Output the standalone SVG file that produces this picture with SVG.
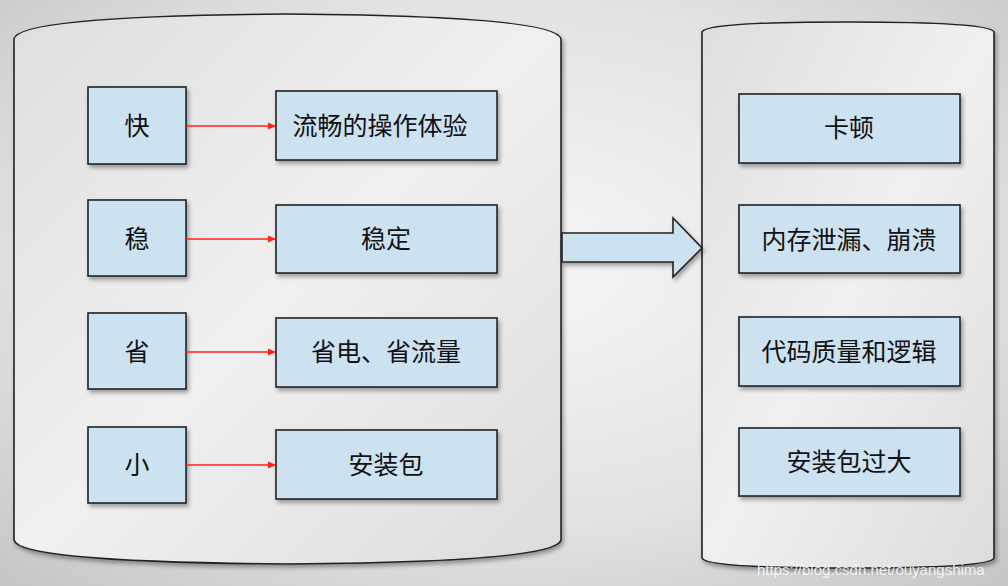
<svg xmlns="http://www.w3.org/2000/svg" width="1008" height="586" viewBox="0 0 1008 586">
<defs>
<radialGradient id="bg" cx="0.5" cy="0.45" r="0.75">
<stop offset="0" stop-color="#f7f7f7"/>
<stop offset="0.6" stop-color="#e2e2e2"/>
<stop offset="1" stop-color="#c4c4c4"/>
</radialGradient>
<linearGradient id="cyl" x1="0" y1="0" x2="1" y2="1">
<stop offset="0" stop-color="#dedede"/>
<stop offset="0.5" stop-color="#f0f0f0"/>
<stop offset="1" stop-color="#dcdcdc"/>
</linearGradient>
<filter id="sh" x="-10%" y="-10%" width="130%" height="140%">
<feDropShadow dx="2" dy="3" stdDeviation="2" flood-color="#000" flood-opacity="0.35"/>
</filter>
<marker id="ra" markerWidth="8" markerHeight="8" refX="7" refY="4" orient="auto" markerUnits="userSpaceOnUse">
<path d="M0,0.5 L8,4 L0,7.5 Z" fill="#ff2020"/>
</marker>
<style>
.cyl{fill:url(#cyl);stroke:#222;stroke-width:1.6;filter:url(#sh)}
.box{fill:#cde2f1;stroke:#222;stroke-width:1.6;filter:url(#sh)}
.t{font-family:"Liberation Sans","Noto Sans CJK SC",sans-serif;font-size:25px;fill:#111;text-anchor:middle;dominant-baseline:central}
.c{stroke:#ff2020;stroke-width:1.4;fill:none;marker-end:url(#ra)}
</style>
</defs>
<rect width="1008" height="586" fill="url(#bg)"/>
<g id="left-container">
<path class="cyl" d="M14,39 Q18,16 287,14 Q556,16 561,39 L561,540 Q556,562 287,564 Q18,562 14,540 Z"/>
</g>
<g id="right-container">
<path class="cyl" d="M702,32 Q706,22 848,22 Q990,22 994,32 L994,558 Q990,568 848,568 Q706,568 702,558 Z"/>
</g>
<g id="n-kuai"><rect class="box" x="88" y="87" width="98" height="77"/><text class="t" x="137" y="126">快</text></g>
<g id="n-wen"><rect class="box" x="88" y="200" width="98" height="76"/><text class="t" x="137" y="239">稳</text></g>
<g id="n-sheng"><rect class="box" x="88" y="313" width="98" height="76"/><text class="t" x="137" y="352">省</text></g>
<g id="n-xiao"><rect class="box" x="88" y="427" width="98" height="76"/><text class="t" x="137" y="465">小</text></g>
<g id="n-liuchang"><rect class="box" x="276" y="91" width="221" height="69"/><text class="t" x="380" y="126">流畅的操作体验</text></g>
<g id="n-wending"><rect class="box" x="276" y="205" width="221" height="68"/><text class="t" x="386" y="239">稳定</text></g>
<g id="n-shengdian"><rect class="box" x="276" y="318" width="221" height="69"/><text class="t" x="386" y="352">省电、省流量</text></g>
<g id="n-anzhuangbao"><rect class="box" x="276" y="430" width="221" height="69"/><text class="t" x="386" y="465">安装包</text></g>
<g id="n-kadun"><rect class="box" x="739" y="94" width="221" height="69"/><text class="t" x="849" y="128">卡顿</text></g>
<g id="n-neicun"><rect class="box" x="739" y="205" width="221" height="68"/><text class="t" x="849" y="240">内存泄漏、崩溃</text></g>
<g id="n-daima"><rect class="box" x="739" y="317" width="221" height="69"/><text class="t" x="849" y="352">代码质量和逻辑</text></g>
<g id="n-guoda"><rect class="box" x="739" y="428" width="221" height="68"/><text class="t" x="849" y="462">安装包过大</text></g>
<g id="connectors">
<line class="c" x1="186" y1="126" x2="275" y2="126"/>
<line class="c" x1="186" y1="239" x2="275" y2="239"/>
<line class="c" x1="186" y1="352" x2="275" y2="352"/>
<line class="c" x1="186" y1="465" x2="275" y2="465"/>
<path class="box" d="M562,233 L673,233 L673,218 L702,248 L673,277 L673,262 L562,262 Z"/>
</g>
<text x="757" y="575" font-family="Liberation Sans, sans-serif" font-size="15" fill="#ffffff" fill-opacity="0.85">https://blog.csdn.net/ouyangshima</text>
</svg>
